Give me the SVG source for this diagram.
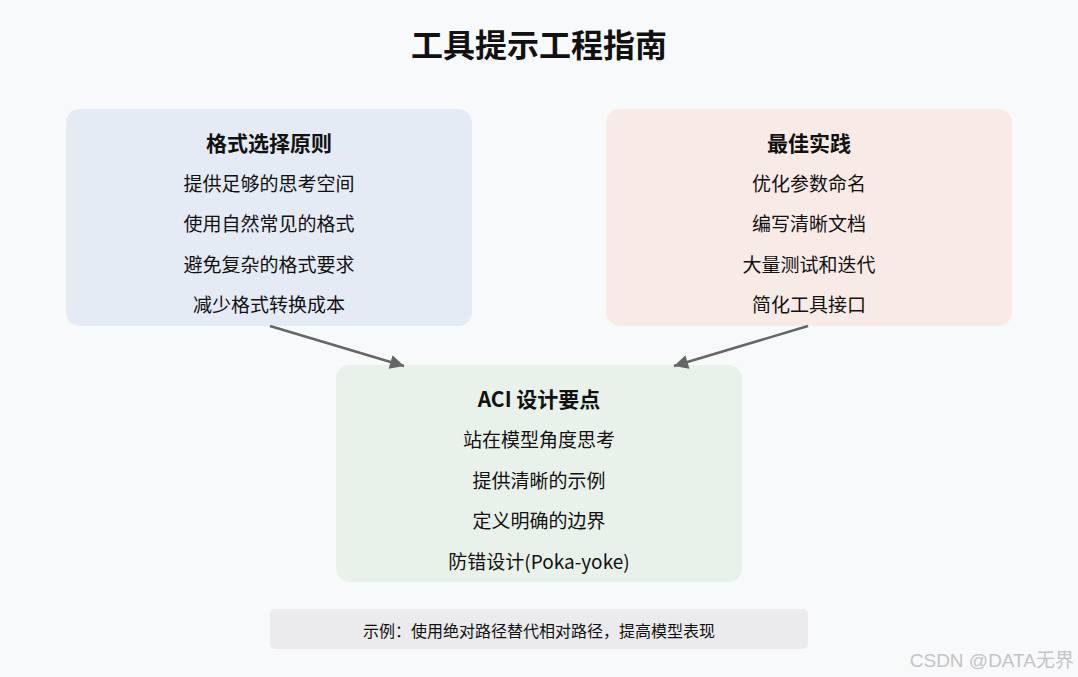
<svg xmlns="http://www.w3.org/2000/svg" width="1078" height="677" viewBox="0 0 1078 677">
<defs>
<style>
text{font-family:"Noto Sans CJK SC","Noto Sans",sans-serif;text-anchor:middle;fill:#111}
.title{font-size:32px;font-weight:bold}
.h{font-size:21px;font-weight:bold}
.i{font-size:19px}
.note{font-size:16px}
.wm{font-family:"Liberation Sans","Noto Sans CJK SC",sans-serif;font-size:19px;fill:#c4c4c4;text-anchor:end}
.conn{stroke:#666;stroke-width:2.5;fill:none}
</style>
<marker id="arr" viewBox="0 0 10 10" refX="10" refY="5" markerWidth="18" markerHeight="14" markerUnits="userSpaceOnUse" orient="auto">
<path d="M0,0 L10,5 L0,10 z" fill="#666"/>
</marker>
</defs>
<rect width="1078" height="677" fill="#f8f9fb"/>
<text class="title" x="539" y="57">工具提示工程指南</text>
<g id="format">
<rect x="66" y="109" width="406" height="217" rx="14" fill="#e4ebf5"/>
<text class="h" x="269" y="151">格式选择原则</text>
<text class="i" x="269" y="191">提供足够的思考空间</text>
<text class="i" x="269" y="231">使用自然常见的格式</text>
<text class="i" x="269" y="272">避免复杂的格式要求</text>
<text class="i" x="269" y="312">减少格式转换成本</text>
</g>
<g id="best">
<rect x="606" y="109" width="406" height="217" rx="14" fill="#f8ebe6"/>
<text class="h" x="809" y="151">最佳实践</text>
<text class="i" x="809" y="191">优化参数命名</text>
<text class="i" x="809" y="231">编写清晰文档</text>
<text class="i" x="809" y="272">大量测试和迭代</text>
<text class="i" x="809" y="312">简化工具接口</text>
</g>
<g id="aci">
<rect x="336" y="365" width="406" height="217" rx="14" fill="#e8f1ea"/>
<text class="h" x="539" y="407">ACI 设计要点</text>
<text class="i" x="539" y="447">站在模型角度思考</text>
<text class="i" x="539" y="488">提供清晰的示例</text>
<text class="i" x="539" y="528">定义明确的边界</text>
<text class="i" x="539" y="569">防错设计(Poka-yoke)</text>
</g>
<g id="connectors">
<line class="conn" x1="270" y1="326" x2="404" y2="366" marker-end="url(#arr)"/>
<line class="conn" x1="808" y1="326" x2="674" y2="366" marker-end="url(#arr)"/>
</g>
<g id="example">
<rect x="270" y="609" width="538" height="40" rx="5" fill="#ebebed"/>
<text class="note" x="539" y="637">示例：使用绝对路径替代相对路径，提高模型表现</text>
</g>
<text class="wm" x="1074" y="667">CSDN @DATA无界</text>
</svg>
